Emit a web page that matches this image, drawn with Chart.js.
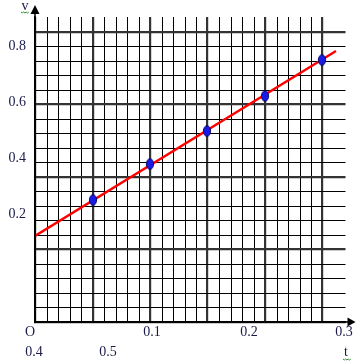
<!DOCTYPE html>
<html>
<head>
<meta charset="utf-8">
<script src="https://cdn.jsdelivr.net/npm/chart.js@4.4.1/dist/chart.umd.min.js"></script>
<style>
  html, body { margin: 0; padding: 0; background: #fff; }
  canvas { display: block; }
</style>
</head>
<body>
<canvas id="vtChart" width="359" height="363"></canvas>
<script>
// measured points (t, v)
const times = [0.05, 0.10, 0.15, 0.20, 0.25];
const speeds = [0.335, 0.435, 0.525, 0.622, 0.722];

// fitted line end points
const fitT = [0, 0.2615];
const fitV = [0.236, 0.745];

// the odd labels written on the paper, with the value they sit at
const xRow1Labels = ['O', '0.1', '0.2', '0.3'];
const xRow1At = [-0.0043, 0.1017, 0.1857, 0.269];
const xRow2Labels = ['0.4', '0.5', 't'];
const xRow2At = [-0.001, 0.0637, 0.27];
const yLabels = ['0.8', '0.6', '0.4', '0.2'];
const yLabelAt = [0.759, 0.606, 0.451, 0.297];

const ink = '#1a1a4a';

// blue ellipse used as point marker
function makeDot() {
    const c = document.createElement('canvas');
    c.width = 10; c.height = 13;
    const g = c.getContext('2d');
    g.beginPath();
    g.ellipse(5, 6.5, 3.6, 5.2, 0, 0, Math.PI * 2);
    g.fillStyle = '#1a1ae6';
    g.fill();
    g.lineWidth = 1;
    g.strokeStyle = '#000066';
    g.stroke();
    return c;
}

function isMajor(v, step) {
    return Math.round(v / step) % 5 === 0;
}

// labels + axis arrows
const paperPlugin = {
    id: 'paper',
    afterDraw(chart) {
        const c = chart.ctx;
        const xs = chart.scales.x, ys = chart.scales.y;
        const x0 = xs.getPixelForValue(0), y0 = ys.getPixelForValue(0);
        c.save();
        // axes extend past the grid
        c.strokeStyle = '#000';
        c.lineWidth = 1.5;
        c.beginPath();
        c.moveTo(x0, y0);
        c.lineTo(x0, chart.chartArea.top - 6);
        c.moveTo(x0, y0);
        c.lineTo(chart.chartArea.right + 6, y0);
        c.stroke();
        c.fillStyle = '#000';
        c.beginPath();
        c.moveTo(x0, chart.chartArea.top - 12);
        c.lineTo(x0 - 4.5, chart.chartArea.top - 3);
        c.lineTo(x0 + 4.5, chart.chartArea.top - 3);
        c.closePath();
        c.fill();
        c.beginPath();
        c.moveTo(chart.chartArea.right + 10, y0);
        c.lineTo(chart.chartArea.right + 2, y0 - 4.5);
        c.lineTo(chart.chartArea.right + 2, y0 + 4.5);
        c.closePath();
        c.fill();

        c.font = '14px "Liberation Serif", "DejaVu Serif", serif';
        c.fillStyle = ink;
        c.textBaseline = 'middle';
        c.textAlign = 'center';
        xRow1Labels.forEach((s, i) => c.fillText(s, xs.getPixelForValue(xRow1At[i]), y0 + 10));
        xRow2Labels.forEach((s, i) => c.fillText(s, xs.getPixelForValue(xRow2At[i]), y0 + 30));
        c.textAlign = 'right';
        yLabels.forEach((s, i) => c.fillText(s, x0 - 9, ys.getPixelForValue(yLabelAt[i])));
        c.textAlign = 'center';
        c.fillText('v', x0 - 10, chart.chartArea.top - 11);

        // little green squiggles under v and t
        c.strokeStyle = '#2e8b2e';
        c.lineWidth = 1;
        [[x0 - 14, chart.chartArea.top - 5], [xs.getPixelForValue(0.27) - 3, y0 + 37]].forEach(p => {
            c.beginPath();
            for (let k = 0; k <= 6; k++) {
                const px = p[0] + k * 1.3, py = p[1] + (k % 2 ? 1 : 0);
                if (k === 0) c.moveTo(px, py); else c.lineTo(px, py);
            }
            c.stroke();
        });
        c.restore();
    }
};

const ctx = document.getElementById('vtChart').getContext('2d');
new Chart(ctx, {
    type: 'scatter',
    data: {
        datasets: [{
            type: 'line',
            data: fitT.map((t, i) => ({ x: t, y: fitV[i] })),
            borderColor: '#ff0000',
            borderWidth: 2.5,
            pointRadius: 0,
            fill: false,
            order: 2
        }, {
            data: times.map((t, i) => ({ x: t, y: speeds[i] })),
            pointStyle: makeDot(),
            order: 1
        }]
    },
    plugins: [paperPlugin],
    options: {
        responsive: false,
        animation: false,
        layout: {
            padding: { left: 35, right: 13.5, top: 17, bottom: 41.3 }
        },
        scales: {
            x: {
                type: 'linear',
                min: 0,
                max: 0.27,
                alignToPixels: true,
                ticks: { display: false, stepSize: 0.01 },
                grid: {
                    drawTicks: false,
                    color: c => c.tick.value > 0.2501 ? 'rgba(0,0,0,0)' : (isMajor(c.tick.value, 0.01) ? '#333' : '#000'),
                    lineWidth: c => isMajor(c.tick.value, 0.01) ? 2.2 : 1
                },
                border: { color: '#000', width: 1.5 }
            },
            y: {
                type: 'linear',
                min: 0,
                max: 0.84,
                alignToPixels: true,
                ticks: { display: false, stepSize: 0.04 },
                grid: {
                    drawTicks: false,
                    color: c => c.tick.value > 0.8001 ? 'rgba(0,0,0,0)' : (isMajor(c.tick.value, 0.04) ? '#333' : '#000'),
                    lineWidth: c => isMajor(c.tick.value, 0.04) ? 2.2 : 1
                },
                border: { color: '#000', width: 1.5 }
            }
        },
        plugins: {
            legend: { display: false },
            tooltip: { enabled: false }
        }
    }
});
</script>
</body>
</html>
